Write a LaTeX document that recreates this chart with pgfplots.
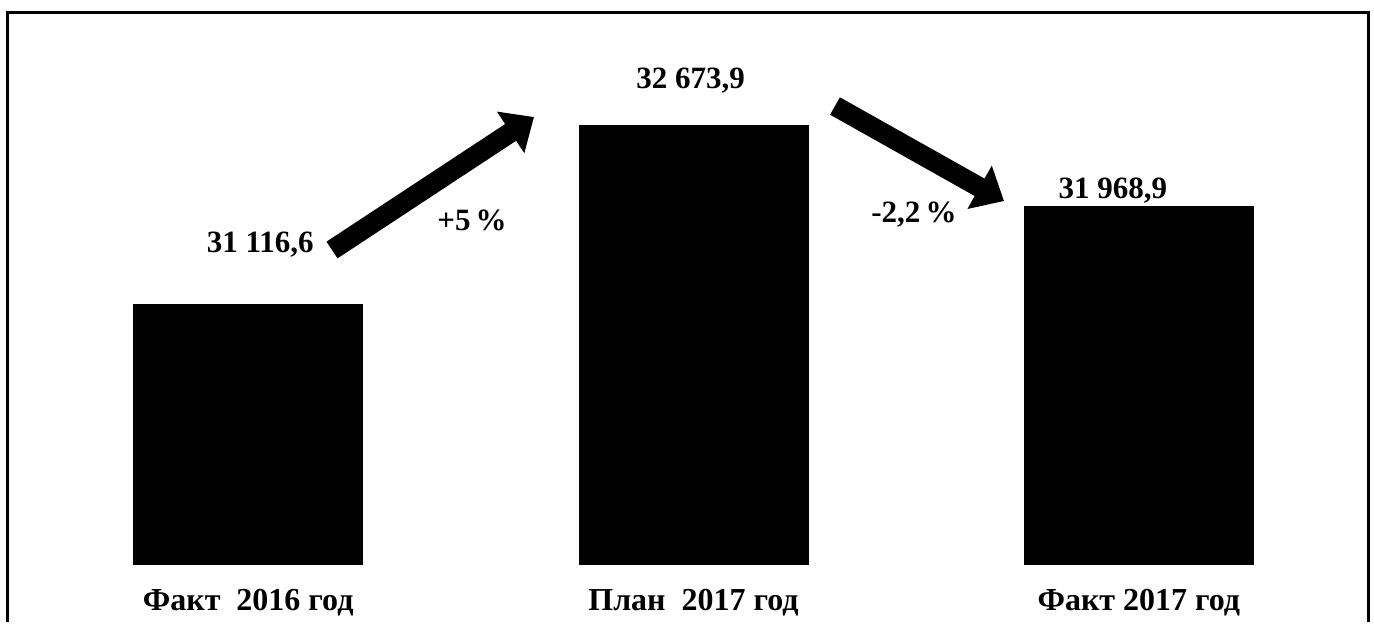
\documentclass[border=0pt]{standalone}
\usepackage{fontspec}
\setmainfont{Liberation Serif}
\usepackage{pgfplots}
\pgfplotsset{compat=1.18}
\usetikzlibrary{arrows.meta}
\begin{document}
\begin{tikzpicture}
% frame, drawn in pixel units of the reference (1 px = 0.5pt, y downwards)
\begin{scope}[x=0.5pt,y=-0.5pt]
  \path (0,0) rectangle (1374,622);
  \draw[line width=1.5pt] (7,622) -- (7,12) -- (1368,12) -- (1368,622);
\end{scope}
\begin{axis}[
    at={(12.75pt,-282.5pt)}, anchor=south west,
    scale only axis, width=668pt, height=276.5pt,
    xmin=-0.5, xmax=2.5, ymin=28836, ymax=33664,
    axis line style={draw=none},
    ybar, bar width=115pt,
    xtick={0,1,2},
    xticklabels={Факт\ \ 2016 год, План\ \ 2017 год, Факт 2017 год},
    xtick style={draw=none}, ytick=\empty, major tick length=0pt,
    xticklabel style={anchor=center, yshift=-19pt,
      font=\fontsize{16}{18}\selectfont\bfseries},
    clip=false,
    nodes near coords,
    /pgf/number format/.cd, fixed, precision=1, zerofill, use comma,
      1000 sep={\ }, assume math mode=true,
    /pgfplots/.cd,
    every node near coord/.append style={anchor=center,
      font=\fontsize{15.5}{18}\selectfont\bfseries, text=black},
  ]
  \addplot[fill=black, draw=none, bar shift=0pt,
    every node near coord/.append style={xshift=6pt, yshift=29.5pt}]
    coordinates {(0,31116.6)};
  \addplot[fill=black, draw=none, bar shift=0pt,
    every node near coord/.append style={xshift=-1.5pt, yshift=22.5pt}]
    coordinates {(1,32673.9)};
  \addplot[fill=black, draw=none, bar shift=0pt,
    every node near coord/.append style={xshift=-13pt, yshift=8pt}]
    coordinates {(2,31968.9)};
\end{axis}
\begin{scope}[x=0.5pt,y=-0.5pt]
  \draw[line width=10pt, -{Triangle[width=24pt,length=14pt]}] (332,250) -- (534,117);
  \draw[line width=10pt, -{Triangle[width=24pt,length=14pt]}] (835,106) -- (1004,201);
  \node[font=\fontsize{15.5}{18}\selectfont\bfseries] at (472,220) {+5\,\%};
  \node[font=\fontsize{15.5}{18}\selectfont\bfseries] at (914,215) {-2,2\,\%};
\end{scope}
\end{tikzpicture}
\end{document}
